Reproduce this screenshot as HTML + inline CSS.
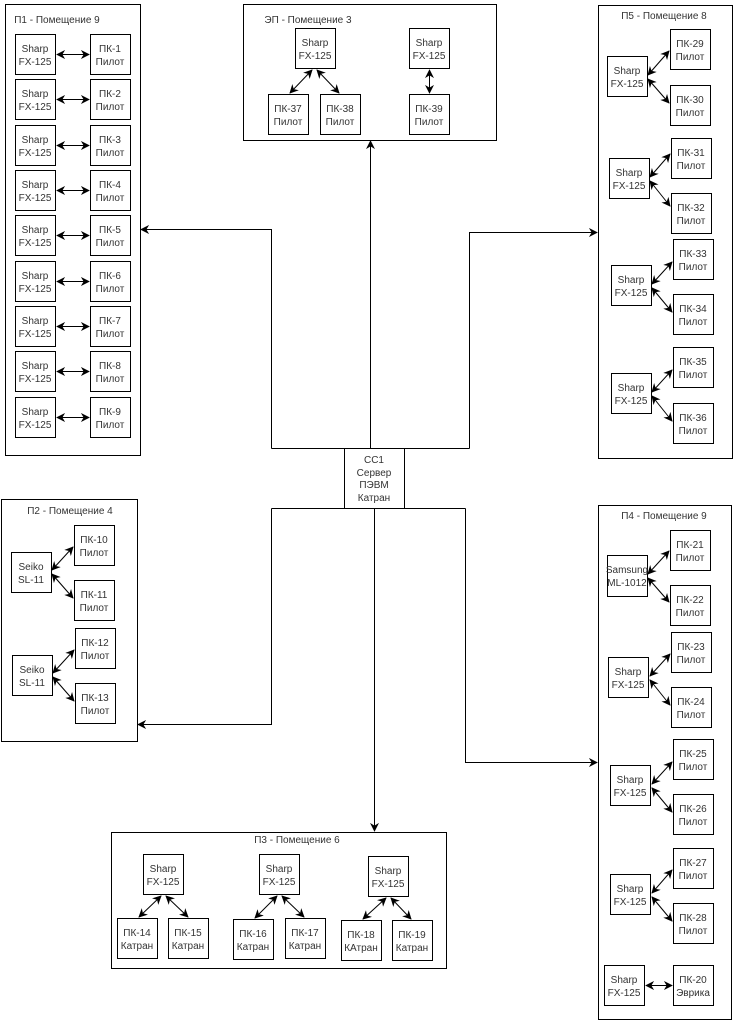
<!DOCTYPE html>
<html><head><meta charset="utf-8"><style>
html,body{margin:0;padding:0;background:#fff;}
svg{display:block;}
text{font-family:"Liberation Sans",sans-serif;font-size:10px;fill:#333;text-anchor:middle;}
.f{fill:#fff;stroke:#000;stroke-width:1;}
.l{stroke:#000;stroke-width:1;fill:none;}
</style></head><body>
<svg width="733" height="1020" viewBox="0 0 733 1020" xmlns="http://www.w3.org/2000/svg">
<defs>
<marker id="a" viewBox="0 0 10 10" refX="9" refY="5" markerWidth="9" markerHeight="9" orient="auto-start-reverse" markerUnits="userSpaceOnUse"><path d="M0,0 L10,5 L0,10 L3,5 z" fill="#000"/></marker>
</defs>

<rect class="f" x="5.5" y="4.5" width="135" height="451"/>
<text x="57" y="23">П1 - Помещение 9</text>
<rect class="f" x="243.5" y="4.5" width="253" height="136"/>
<text x="308" y="23">ЭП - Помещение 3</text>
<rect class="f" x="598.5" y="5.5" width="134" height="453"/>
<text x="664" y="19">П5 - Помещение 8</text>
<rect class="f" x="1.5" y="499.5" width="136" height="242"/>
<text x="70" y="514">П2 - Помещение 4</text>
<rect class="f" x="111.5" y="832.5" width="335" height="136"/>
<text x="297" y="843">П3 - Помещение 6</text>
<rect class="f" x="598.5" y="505.5" width="133" height="514"/>
<text x="664" y="519">П4 - Помещение 9</text>

<path class="l" d="M271.5,448.5 H469.5"/>
<path class="l" d="M271.5,508.5 H465.5"/>
<path class="l" d="M271.5,448.5 V229.5 H141" marker-end="url(#a)"/>
<path class="l" d="M370.5,448.5 V141" marker-end="url(#a)"/>
<path class="l" d="M469.5,448.5 V232.5 H597" marker-end="url(#a)"/>
<path class="l" d="M271.5,508.5 V724.5 H138" marker-end="url(#a)"/>
<path class="l" d="M374.5,508.5 V831" marker-end="url(#a)"/>
<path class="l" d="M465.5,508.5 V762.5 H597" marker-end="url(#a)"/>
<rect class="f" x="344.5" y="448.5" width="60" height="60"/>
<text x="374" y="463">CC1</text><text x="374" y="476">Сервер</text><text x="374" y="488">ПЭВМ</text><text x="374" y="501">Катран</text>

<rect class="f" x="15.5" y="34.5" width="40" height="40"/><text x="35" y="52">Sharp</text><text x="35" y="65">FX-125</text>
<rect class="f" x="90.5" y="34.5" width="40" height="40"/><text x="110" y="52">ПК-1</text><text x="110" y="65">Пилот</text>
<rect class="f" x="15.5" y="79.5" width="40" height="40"/><text x="35" y="97">Sharp</text><text x="35" y="110">FX-125</text>
<rect class="f" x="90.5" y="79.5" width="40" height="40"/><text x="110" y="97">ПК-2</text><text x="110" y="110">Пилот</text>
<rect class="f" x="15.5" y="125.5" width="40" height="40"/><text x="35" y="143">Sharp</text><text x="35" y="156">FX-125</text>
<rect class="f" x="90.5" y="125.5" width="40" height="40"/><text x="110" y="143">ПК-3</text><text x="110" y="156">Пилот</text>
<rect class="f" x="15.5" y="170.5" width="40" height="40"/><text x="35" y="188">Sharp</text><text x="35" y="201">FX-125</text>
<rect class="f" x="90.5" y="170.5" width="40" height="40"/><text x="110" y="188">ПК-4</text><text x="110" y="201">Пилот</text>
<rect class="f" x="15.5" y="215.5" width="40" height="40"/><text x="35" y="233">Sharp</text><text x="35" y="246">FX-125</text>
<rect class="f" x="90.5" y="215.5" width="40" height="40"/><text x="110" y="233">ПК-5</text><text x="110" y="246">Пилот</text>
<rect class="f" x="15.5" y="261.5" width="40" height="40"/><text x="35" y="279">Sharp</text><text x="35" y="292">FX-125</text>
<rect class="f" x="90.5" y="261.5" width="40" height="40"/><text x="110" y="279">ПК-6</text><text x="110" y="292">Пилот</text>
<rect class="f" x="15.5" y="306.5" width="40" height="40"/><text x="35" y="324">Sharp</text><text x="35" y="337">FX-125</text>
<rect class="f" x="90.5" y="306.5" width="40" height="40"/><text x="110" y="324">ПК-7</text><text x="110" y="337">Пилот</text>
<rect class="f" x="15.5" y="351.5" width="40" height="40"/><text x="35" y="369">Sharp</text><text x="35" y="382">FX-125</text>
<rect class="f" x="90.5" y="351.5" width="40" height="40"/><text x="110" y="369">ПК-8</text><text x="110" y="382">Пилот</text>
<rect class="f" x="15.5" y="397.5" width="40" height="40"/><text x="35" y="415">Sharp</text><text x="35" y="428">FX-125</text>
<rect class="f" x="90.5" y="397.5" width="40" height="40"/><text x="110" y="415">ПК-9</text><text x="110" y="428">Пилот</text>
<line class="l" x1="57" y1="54.5" x2="89" y2="54.5" marker-start="url(#a)" marker-end="url(#a)"/>
<line class="l" x1="57" y1="99.5" x2="89" y2="99.5" marker-start="url(#a)" marker-end="url(#a)"/>
<line class="l" x1="57" y1="145.5" x2="89" y2="145.5" marker-start="url(#a)" marker-end="url(#a)"/>
<line class="l" x1="57" y1="190.5" x2="89" y2="190.5" marker-start="url(#a)" marker-end="url(#a)"/>
<line class="l" x1="57" y1="235.5" x2="89" y2="235.5" marker-start="url(#a)" marker-end="url(#a)"/>
<line class="l" x1="57" y1="281.5" x2="89" y2="281.5" marker-start="url(#a)" marker-end="url(#a)"/>
<line class="l" x1="57" y1="326.5" x2="89" y2="326.5" marker-start="url(#a)" marker-end="url(#a)"/>
<line class="l" x1="57" y1="371.5" x2="89" y2="371.5" marker-start="url(#a)" marker-end="url(#a)"/>
<line class="l" x1="57" y1="417.5" x2="89" y2="417.5" marker-start="url(#a)" marker-end="url(#a)"/>

<rect class="f" x="295.5" y="28.5" width="40" height="40"/><text x="315" y="46">Sharp</text><text x="315" y="59">FX-125</text>
<rect class="f" x="268.5" y="94.5" width="40" height="40"/><text x="288" y="112">ПК-37</text><text x="288" y="125">Пилот</text>
<rect class="f" x="320.5" y="94.5" width="40" height="40"/><text x="340" y="112">ПК-38</text><text x="340" y="125">Пилот</text>
<rect class="f" x="409.5" y="28.5" width="40" height="40"/><text x="429" y="46">Sharp</text><text x="429" y="59">FX-125</text>
<rect class="f" x="409.5" y="94.5" width="40" height="40"/><text x="429" y="112">ПК-39</text><text x="429" y="125">Пилот</text>
<line class="l" x1="312" y1="70" x2="290" y2="93" marker-start="url(#a)" marker-end="url(#a)"/>
<line class="l" x1="317" y1="70" x2="339" y2="93" marker-start="url(#a)" marker-end="url(#a)"/>
<line class="l" x1="429.5" y1="70" x2="429.5" y2="93" marker-start="url(#a)" marker-end="url(#a)"/>

<rect class="f" x="607.5" y="56.5" width="40" height="40"/><text x="627" y="74">Sharp</text><text x="627" y="87">FX-125</text>
<rect class="f" x="670.5" y="29.5" width="40" height="40"/><text x="690" y="47">ПК-29</text><text x="690" y="60">Пилот</text>
<rect class="f" x="670.5" y="85.5" width="40" height="40"/><text x="690" y="103">ПК-30</text><text x="690" y="116">Пилот</text>
<rect class="f" x="609.5" y="158.5" width="40" height="40"/><text x="629" y="176">Sharp</text><text x="629" y="189">FX-125</text>
<rect class="f" x="671.5" y="138.5" width="40" height="40"/><text x="691" y="156">ПК-31</text><text x="691" y="169">Пилот</text>
<rect class="f" x="671.5" y="193.5" width="40" height="40"/><text x="691" y="211">ПК-32</text><text x="691" y="224">Пилот</text>
<rect class="f" x="611.5" y="265.5" width="40" height="40"/><text x="631" y="283">Sharp</text><text x="631" y="296">FX-125</text>
<rect class="f" x="673.5" y="239.5" width="40" height="40"/><text x="693" y="257">ПК-33</text><text x="693" y="270">Пилот</text>
<rect class="f" x="673.5" y="294.5" width="40" height="40"/><text x="693" y="312">ПК-34</text><text x="693" y="325">Пилот</text>
<rect class="f" x="611.5" y="373.5" width="40" height="40"/><text x="631" y="391">Sharp</text><text x="631" y="404">FX-125</text>
<rect class="f" x="673.5" y="347.5" width="40" height="40"/><text x="693" y="365">ПК-35</text><text x="693" y="378">Пилот</text>
<rect class="f" x="673.5" y="403.5" width="40" height="40"/><text x="693" y="421">ПК-36</text><text x="693" y="434">Пилот</text>
<line class="l" x1="648" y1="75" x2="669" y2="51" marker-start="url(#a)" marker-end="url(#a)"/>
<line class="l" x1="648" y1="79" x2="669" y2="103" marker-start="url(#a)" marker-end="url(#a)"/>
<line class="l" x1="650" y1="177" x2="670" y2="154" marker-start="url(#a)" marker-end="url(#a)"/>
<line class="l" x1="650" y1="181" x2="670" y2="206" marker-start="url(#a)" marker-end="url(#a)"/>
<line class="l" x1="652" y1="284" x2="672" y2="262" marker-start="url(#a)" marker-end="url(#a)"/>
<line class="l" x1="652" y1="288" x2="672" y2="312" marker-start="url(#a)" marker-end="url(#a)"/>
<line class="l" x1="652" y1="392" x2="672" y2="370" marker-start="url(#a)" marker-end="url(#a)"/>
<line class="l" x1="652" y1="396" x2="672" y2="421" marker-start="url(#a)" marker-end="url(#a)"/>

<rect class="f" x="11.5" y="552.5" width="40" height="40"/><text x="31" y="570">Seiko</text><text x="31" y="583">SL-11</text>
<rect class="f" x="74.5" y="525.5" width="40" height="40"/><text x="94" y="543">ПК-10</text><text x="94" y="556">Пилот</text>
<rect class="f" x="74.5" y="580.5" width="40" height="40"/><text x="94" y="598">ПК-11</text><text x="94" y="611">Пилот</text>
<rect class="f" x="12.5" y="655.5" width="40" height="40"/><text x="32" y="673">Seiko</text><text x="32" y="686">SL-11</text>
<rect class="f" x="75.5" y="628.5" width="40" height="40"/><text x="95" y="646">ПК-12</text><text x="95" y="659">Пилот</text>
<rect class="f" x="75.5" y="683.5" width="40" height="40"/><text x="95" y="701">ПК-13</text><text x="95" y="714">Пилот</text>
<line class="l" x1="52" y1="570" x2="73" y2="547" marker-start="url(#a)" marker-end="url(#a)"/>
<line class="l" x1="52" y1="574" x2="73" y2="598" marker-start="url(#a)" marker-end="url(#a)"/>
<line class="l" x1="53" y1="673" x2="74" y2="650" marker-start="url(#a)" marker-end="url(#a)"/>
<line class="l" x1="53" y1="677" x2="74" y2="701" marker-start="url(#a)" marker-end="url(#a)"/>

<rect class="f" x="143.5" y="854.5" width="40" height="40"/><text x="163" y="872">Sharp</text><text x="163" y="885">FX-125</text>
<rect class="f" x="117.5" y="918.5" width="40" height="40"/><text x="137" y="936">ПК-14</text><text x="137" y="949">Катран</text>
<rect class="f" x="168.5" y="918.5" width="40" height="40"/><text x="188" y="936">ПК-15</text><text x="188" y="949">Катран</text>
<rect class="f" x="259.5" y="854.5" width="40" height="40"/><text x="279" y="872">Sharp</text><text x="279" y="885">FX-125</text>
<rect class="f" x="233.5" y="919.5" width="40" height="40"/><text x="253" y="937">ПК-16</text><text x="253" y="950">Катран</text>
<rect class="f" x="285.5" y="918.5" width="40" height="40"/><text x="305" y="936">ПК-17</text><text x="305" y="949">Катран</text>
<rect class="f" x="368.5" y="856.5" width="40" height="40"/><text x="388" y="874">Sharp</text><text x="388" y="887">FX-125</text>
<rect class="f" x="341.5" y="920.5" width="40" height="40"/><text x="361" y="938">ПК-18</text><text x="361" y="951">КАтран</text>
<rect class="f" x="392.5" y="920.5" width="40" height="40"/><text x="412" y="938">ПК-19</text><text x="412" y="951">Катран</text>
<line class="l" x1="161" y1="896" x2="139" y2="917" marker-start="url(#a)" marker-end="url(#a)"/>
<line class="l" x1="166" y1="896" x2="188" y2="917" marker-start="url(#a)" marker-end="url(#a)"/>
<line class="l" x1="277" y1="896" x2="255" y2="918" marker-start="url(#a)" marker-end="url(#a)"/>
<line class="l" x1="282" y1="896" x2="304" y2="917" marker-start="url(#a)" marker-end="url(#a)"/>
<line class="l" x1="386" y1="898" x2="363" y2="919" marker-start="url(#a)" marker-end="url(#a)"/>
<line class="l" x1="391" y1="898" x2="411" y2="919" marker-start="url(#a)" marker-end="url(#a)"/>

<rect class="f" x="607.5" y="555.5" width="40" height="41"/><text x="627" y="573">Samsung</text><text x="627" y="586">ML-1012</text>
<rect class="f" x="670.5" y="530.5" width="40" height="40"/><text x="690" y="548">ПК-21</text><text x="690" y="561">Пилот</text>
<rect class="f" x="670.5" y="585.5" width="40" height="40"/><text x="690" y="603">ПК-22</text><text x="690" y="616">Пилот</text>
<rect class="f" x="608.5" y="657.5" width="40" height="40"/><text x="628" y="675">Sharp</text><text x="628" y="688">FX-125</text>
<rect class="f" x="671.5" y="632.5" width="40" height="40"/><text x="691" y="650">ПК-23</text><text x="691" y="663">Пилот</text>
<rect class="f" x="671.5" y="687.5" width="40" height="40"/><text x="691" y="705">ПК-24</text><text x="691" y="718">Пилот</text>
<rect class="f" x="610.5" y="765.5" width="40" height="40"/><text x="630" y="783">Sharp</text><text x="630" y="796">FX-125</text>
<rect class="f" x="673.5" y="739.5" width="40" height="40"/><text x="693" y="757">ПК-25</text><text x="693" y="770">Пилот</text>
<rect class="f" x="673.5" y="794.5" width="40" height="40"/><text x="693" y="812">ПК-26</text><text x="693" y="825">Пилот</text>
<rect class="f" x="610.5" y="874.5" width="40" height="40"/><text x="630" y="892">Sharp</text><text x="630" y="905">FX-125</text>
<rect class="f" x="673.5" y="848.5" width="40" height="40"/><text x="693" y="866">ПК-27</text><text x="693" y="879">Пилот</text>
<rect class="f" x="673.5" y="903.5" width="40" height="40"/><text x="693" y="921">ПК-28</text><text x="693" y="934">Пилот</text>
<rect class="f" x="604.5" y="965.5" width="40" height="40"/><text x="624" y="983">Sharp</text><text x="624" y="996">FX-125</text>
<rect class="f" x="673.5" y="965.5" width="40" height="40"/><text x="693" y="983">ПК-20</text><text x="693" y="996">Эврика</text>
<line class="l" x1="648" y1="574" x2="669" y2="551" marker-start="url(#a)" marker-end="url(#a)"/>
<line class="l" x1="648" y1="578" x2="669" y2="602" marker-start="url(#a)" marker-end="url(#a)"/>
<line class="l" x1="650" y1="676" x2="670" y2="654" marker-start="url(#a)" marker-end="url(#a)"/>
<line class="l" x1="650" y1="680" x2="670" y2="705" marker-start="url(#a)" marker-end="url(#a)"/>
<line class="l" x1="652" y1="784" x2="672" y2="762" marker-start="url(#a)" marker-end="url(#a)"/>
<line class="l" x1="652" y1="788" x2="672" y2="812" marker-start="url(#a)" marker-end="url(#a)"/>
<line class="l" x1="652" y1="893" x2="672" y2="870" marker-start="url(#a)" marker-end="url(#a)"/>
<line class="l" x1="652" y1="897" x2="672" y2="921" marker-start="url(#a)" marker-end="url(#a)"/>
<line class="l" x1="646" y1="985.5" x2="672" y2="985.5" marker-start="url(#a)" marker-end="url(#a)"/>
</svg>
</body></html>
